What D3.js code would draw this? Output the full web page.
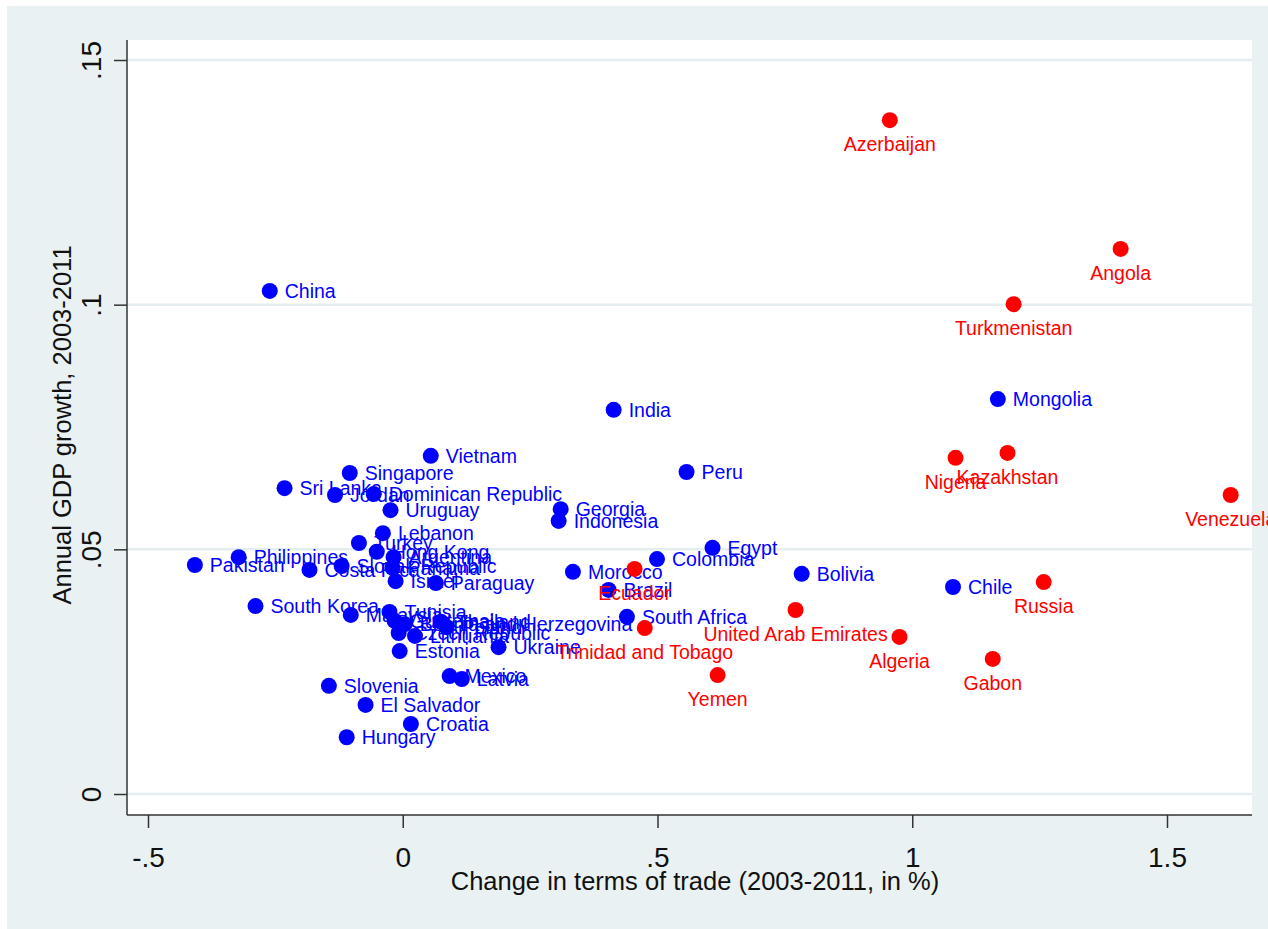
<!DOCTYPE html>
<html>
<head>
<meta charset="utf-8">
<script src="https://cdn.jsdelivr.net/npm/d3@7/dist/d3.min.js"></script>
<style>
  body { margin: 0; background: #fff; }
  svg text { font-family: "Liberation Sans", Arial, sans-serif; }
</style>
</head>
<body>
<div id="chart"></div>
<script>
// non oil exporters (blue)
var otherNames = ["China", "India", "Mongolia", "Peru", "Vietnam", "Singapore", "Sri Lanka", "Jordan",
  "Dominican Republic", "Uruguay", "Georgia", "Indonesia", "Lebanon", "Turkey", "Egypt", "Colombia",
  "Philippines", "Pakistan", "Costa Rica", "Slovak Republic", "Hong Kong", "Argentina", "Panama", "Israel",
  "Paraguay", "Morocco", "Brazil", "South Africa", "Bolivia", "Chile", "South Korea", "Malaysia", "Tunisia",
  "Guatemala", "Bosnia and Herzegovina", "Thailand", "Poland", "Czech Republic", "Lithuania", "Estonia",
  "Ukraine", "Mexico", "Latvia", "Slovenia", "El Salvador", "Croatia", "Hungary"];
var otherTot = [-0.261, 0.414, 1.168, 0.557, 0.055, -0.104, -0.232, -0.133,
  -0.057, -0.024, 0.310, 0.306, -0.039, -0.086, 0.608, 0.499,
  -0.322, -0.408, -0.183, -0.120, -0.051, -0.018, -0.020, -0.014,
  0.065, 0.334, 0.404, 0.440, 0.783, 1.080, -0.289, -0.102, -0.026,
  -0.016, 0.004, 0.075, 0.086, -0.008, 0.024, -0.006,
  0.188, 0.092, 0.116, -0.145, -0.073, 0.016, -0.110];
var otherGrowth = [0.1028, 0.0785, 0.0807, 0.0658, 0.0691, 0.0656, 0.0625, 0.0611,
  0.0613, 0.0580, 0.0582, 0.0558, 0.0533, 0.0513, 0.0503, 0.0480,
  0.0484, 0.0468, 0.0458, 0.0466, 0.0495, 0.0484, 0.0462, 0.0435,
  0.0431, 0.0454, 0.0417, 0.0362, 0.0450, 0.0423, 0.0384, 0.0366, 0.0372,
  0.0354, 0.0347, 0.0352, 0.0341, 0.0329, 0.0323, 0.0292,
  0.0300, 0.0241, 0.0235, 0.0221, 0.0182, 0.0143, 0.0116];

// oil exporters (red)
var oilNames = ["Azerbaijan", "Angola", "Turkmenistan", "Kazakhstan", "Nigeria", "Venezuela", "Russia",
  "Algeria", "Gabon", "United Arab Emirates", "Yemen", "Ecuador", "Trinidad and Tobago"];
var oilTot = [0.956, 1.409, 1.199, 1.187, 1.085, 1.625, 1.258, 0.975, 1.158, 0.771, 0.618, 0.455, 0.475];
var oilGrowth = [0.1377, 0.1114, 0.1001, 0.0697, 0.0687, 0.0611, 0.0433, 0.0321, 0.0276, 0.0376, 0.0243, 0.0460, 0.0339];

var xTicks = [-0.5, 0, 0.5, 1, 1.5];
var xTickLabels = ["-.5", "0", ".5", "1", "1.5"];
var yTicks = [0, 0.05, 0.1, 0.15];
var yTickLabels = ["0", ".05", ".1", ".15"];

var width = 1268, height = 929;
var plotLeft = 127, plotRight = 1252, plotTop = 40, plotBottom = 815;

var svg = d3.select("#chart").append("svg")
  .attr("width", width)
  .attr("height", height);

// outer stata-like background
svg.append("rect")
  .attr("x", 7).attr("y", 6)
  .attr("width", width - 7).attr("height", height - 6)
  .style("fill", "#eaf1f3");
svg.append("rect")
  .attr("x", plotLeft).attr("y", plotTop)
  .attr("width", plotRight - plotLeft).attr("height", plotBottom - plotTop)
  .style("fill", "#fff");

var xScale = d3.scaleLinear().domain([-0.5, 1.5]).range([148, 1167]);
var yScale = d3.scaleLinear().domain([0, 0.15]).range([794, 60]);

// gridlines
svg.append("g").selectAll("line")
  .data(yTicks)
  .enter().append("line")
  .attr("x1", plotLeft).attr("x2", plotRight)
  .attr("y1", function (d) { return yScale(d); })
  .attr("y2", function (d) { return yScale(d); })
  .style("stroke", "#e4edf0")
  .style("stroke-width", 2.5);

// axes
var xAxis = d3.axisBottom(xScale)
  .tickValues(xTicks)
  .tickFormat(function (d, i) { return xTickLabels[i]; })
  .tickSize(13)
  .tickSizeOuter(0)
  .tickPadding(10);
var xg = svg.append("g")
  .attr("transform", "translate(0," + plotBottom + ")")
  .call(xAxis);
xg.select(".domain").remove();
xg.append("line")
  .attr("x1", plotLeft).attr("x2", plotRight)
  .attr("y1", 0).attr("y2", 0)
  .style("stroke", "#333").style("stroke-width", 1.5);
xg.selectAll(".tick line").style("stroke", "#333").style("stroke-width", 1.5);
xg.selectAll(".tick text")
  .attr("y", 52).attr("dy", null)
  .style("font-size", "28px")
  .style("fill", "#111");

var yAxis = d3.axisLeft(yScale)
  .tickValues(yTicks)
  .tickFormat(function (d, i) { return yTickLabels[i]; })
  .tickSize(13)
  .tickSizeOuter(0);
var yg = svg.append("g")
  .attr("transform", "translate(" + plotLeft + ",0)")
  .call(yAxis);
yg.select(".domain").remove();
yg.append("line")
  .attr("x1", 0).attr("x2", 0)
  .attr("y1", plotTop).attr("y2", plotBottom)
  .style("stroke", "#333").style("stroke-width", 1.5);
yg.selectAll(".tick line").style("stroke", "#333").style("stroke-width", 1.5);
yg.selectAll(".tick text")
  .attr("x", null).attr("dy", null)
  .attr("text-anchor", "middle")
  .attr("transform", "translate(-26,0) rotate(-90)")
  .style("font-size", "28px")
  .style("fill", "#111");

// axis titles
svg.append("text")
  .attr("x", 695).attr("y", 890)
  .attr("text-anchor", "middle")
  .style("font-size", "25.5px")
  .style("fill", "#111")
  .text("Change in terms of trade (2003-2011, in %)");
svg.append("text")
  .attr("transform", "translate(71,425) rotate(-90)")
  .attr("text-anchor", "middle")
  .style("font-size", "25.5px")
  .style("fill", "#111")
  .text("Annual GDP growth, 2003-2011");

// points and labels
function drawSeries(names, xs, ys, color, below) {
  var data = names.map(function (n, i) { return { name: n, x: xs[i], y: ys[i] }; });
  var g = svg.append("g");
  g.selectAll("circle")
    .data(data)
    .enter().append("circle")
    .attr("cx", function (d) { return xScale(d.x); })
    .attr("cy", function (d) { return yScale(d.y); })
    .attr("r", 8)
    .style("fill", color);
  g.selectAll("text")
    .data(data)
    .enter().append("text")
    .attr("x", function (d) { return below ? xScale(d.x) : xScale(d.x) + 15; })
    .attr("y", function (d) { return below ? yScale(d.y) + 31 : yScale(d.y) + 7; })
    .attr("text-anchor", below ? "middle" : "start")
    .style("font-size", "19.5px")
    .style("fill", color)
    .text(function (d) { return d.name; });
}
drawSeries(otherNames, otherTot, otherGrowth, "#0000ff", false);
drawSeries(oilNames, oilTot, oilGrowth, "#ff0000", true);
</script>
</body>
</html>
